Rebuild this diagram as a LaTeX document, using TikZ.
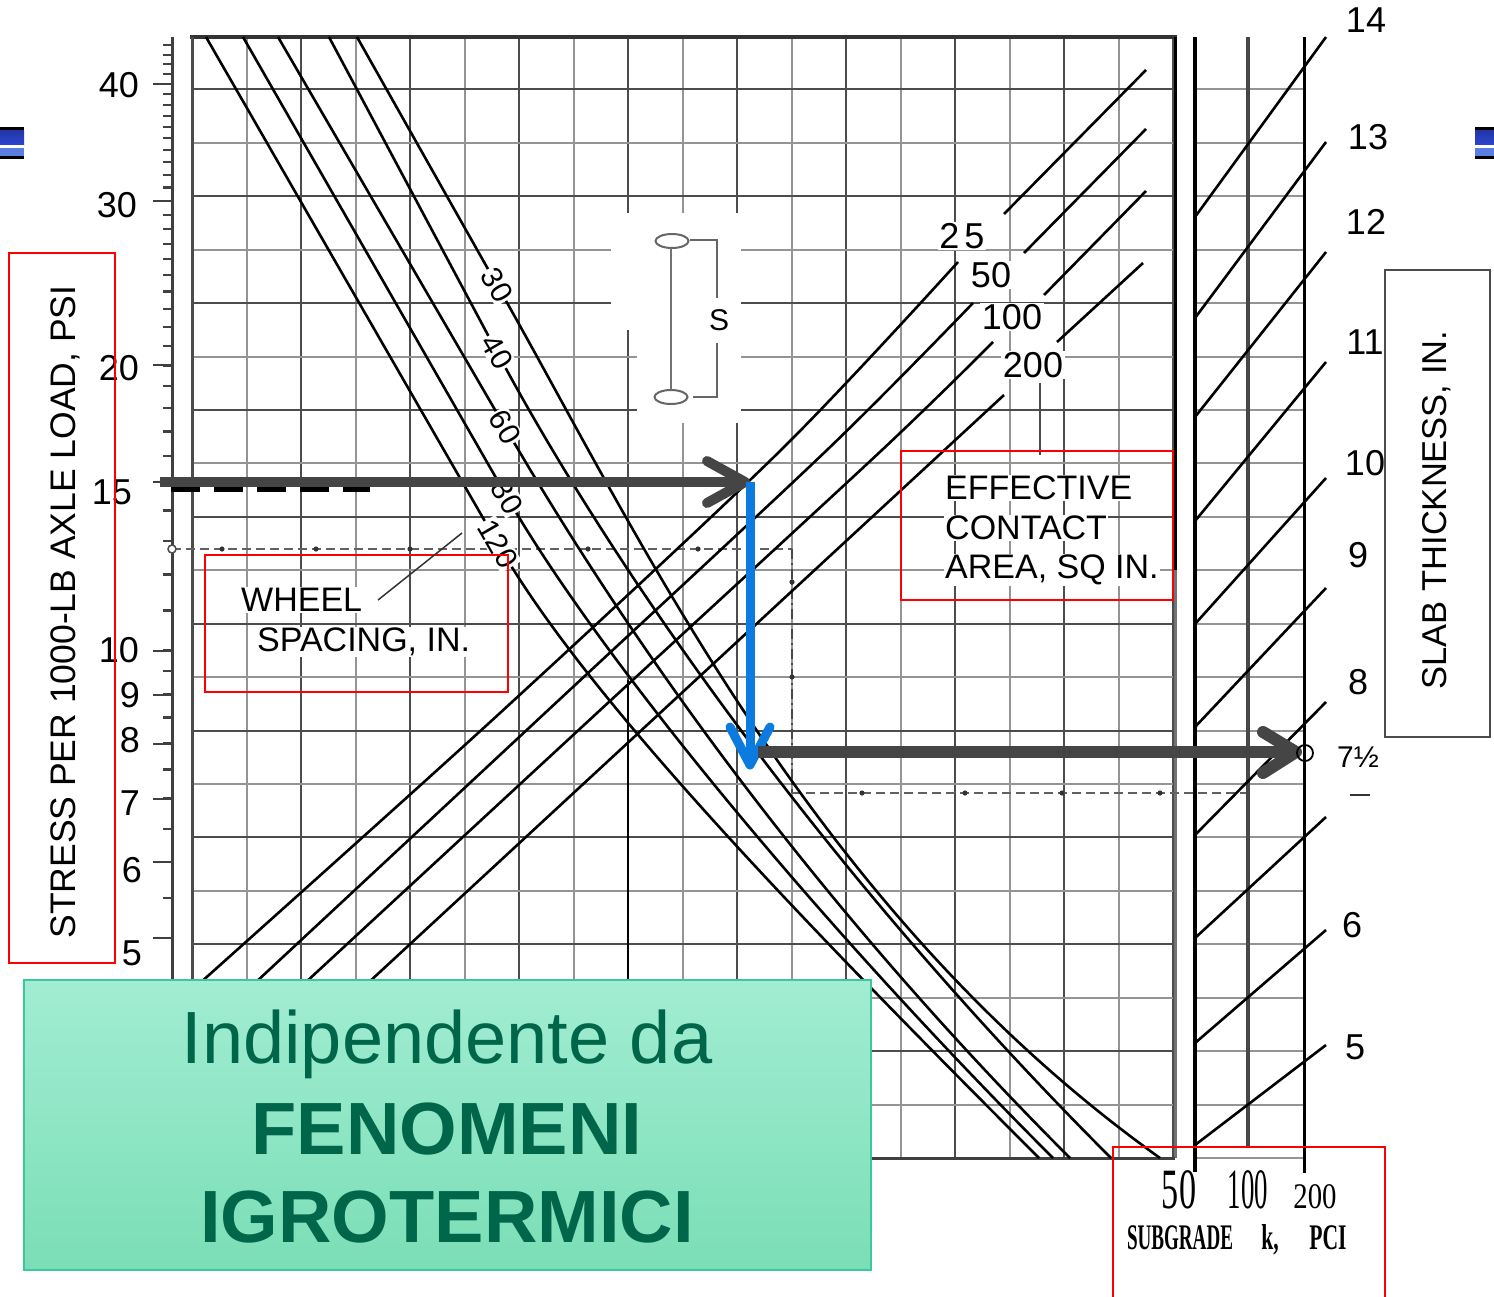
\documentclass[tikz,border=0pt]{standalone}
\usepackage{fontspec}
\setmainfont{Liberation Sans}
\newfontfamily\serifcond{Liberation Serif}
\definecolor{arrowgray}{HTML}{454545}
\definecolor{arrowblue}{HTML}{0B7BE0}
\definecolor{greentop}{HTML}{A2EDD3}
\definecolor{greenbot}{HTML}{7ADEB6}
\definecolor{greenedge}{HTML}{3CC89C}
\definecolor{greentext}{HTML}{00664A}
\definecolor{decoblue}{HTML}{2B44D0}
\definecolor{decolight}{HTML}{5A7FE0}
\begin{document}
\begin{tikzpicture}[x=1pt,y=-1pt,
  gridlight/.style={line width=2pt, black!42},
  griddark/.style={line width=2pt, black!70},
  chartline/.style={line width=2.6pt, black},
  redbox/.style={draw=red, line width=2.2pt},
  numlbl/.style={font=\fontsize{36}{40}\selectfont, inner sep=1pt},
  wlbl/.style={font=\fontsize{30}{32}\selectfont, fill=white, inner sep=1.5pt, rotate=-60},
  clbl/.style={font=\fontsize{36}{40}\selectfont, fill=white, inner sep=1.5pt},
  boxtext/.style={font=\fontsize{34}{38}\selectfont, fill=white, inner sep=1pt, anchor=west},
  dashgray/.style={line width=2pt, black!62, dash pattern=on 9pt off 5pt},
  dashdot/.style={line width=2pt, black!72, dash pattern=on 10pt off 4pt on 2pt off 4pt},
  grayarrow/.style={line width=10pt, arrowgray},
  bluearrow/.style={line width=9pt, arrowblue},
  chev/.style={line cap=round, line join=round},
  bigtext/.style={font=\fontsize{74}{80}\selectfont, text=greentext, anchor=base},
  condlbl/.style={font=\serifcond\fontsize{36}{40}\selectfont, inner sep=0pt}
]
\useasboundingbox (0,0) rectangle (1494,1296);
\fill[white] (0,0) rectangle (1494,1296);

% ---------- decoration bars ----------
\fill[black] (0,127) rectangle (24,159);
\shade[top color=decoblue!80!black, bottom color=decoblue] (0,130) rectangle (24,145);
\fill[white] (0,145) rectangle (24,148);
\fill[decolight] (0,148) rectangle (24,156);
\fill[black] (1475,127) rectangle (1494,159);
\shade[top color=decoblue!80!black, bottom color=decoblue] (1475,130) rectangle (1494,145);
\fill[white] (1475,145) rectangle (1494,148);
\fill[decolight] (1475,148) rectangle (1494,156);

% ---------- grid ----------
\foreach \k in {0,2,...,18} {
  \pgfmathsetmacro\xx{192+54.5*\k}
  \draw[griddark] (\xx,37) -- (\xx,1158);
}
\foreach \k in {1,3,...,17} {
  \pgfmathsetmacro\xx{192+54.5*\k}
  \draw[gridlight] (\xx,37) -- (\xx,1158);
}
\foreach \k in {1,3,...,21} {
  \pgfmathsetmacro\yy{36+53.43*\k}
  \draw[griddark] (192,\yy) -- (1173,\yy);
  \draw[gridlight] (1195,\yy) -- (1304,\yy);
}
\foreach \k in {2,4,...,20} {
  \pgfmathsetmacro\yy{36+53.43*\k}
  \draw[gridlight] (192,\yy) -- (1173,\yy);
  \draw[gridlight] (1195,\yy) -- (1304,\yy);
}
\draw[black, line width=2.5pt] (628,680) -- (628,985);
% white clearing round the S sketch
\fill[white] (637,213) rectangle (741,423);
\fill[white] (611,213) rectangle (637,330);

% ---------- frame ----------
\draw[black!80, line width=4pt] (190,37) -- (1177,37);
\draw[black, line width=3pt] (1175,37) -- (1175,570);
\draw[black!55, line width=3pt] (1175,570) -- (1175,1158);
\draw[black!70, line width=3pt] (192,37) -- (192,1158);
\draw[black!75, line width=3pt] (192,1158) -- (1175,1158);

% ---------- left log axis ----------
\draw[black!75, line width=3pt] (172,37) -- (172,990);
\foreach \v in {5,5.5,...,10} {
  \pgfmathsetmacro\yy{482+955*(ln(15)-ln(\v))/ln(10)}
  \draw[black!75, line width=2.2pt] (163,\yy) -- (172,\yy);
}
\foreach \v in {11,12,13,14} {
  \pgfmathsetmacro\yy{482+955*(ln(15)-ln(\v))/ln(10)}
  \draw[black!75, line width=2.2pt] (163,\yy) -- (172,\yy);
}
\foreach \v in {15,16,...,44} {
  \pgfmathsetmacro\yy{84+935*(ln(40)-ln(\v))/ln(10)}
  \draw[black!75, line width=2.2pt] (163,\yy) -- (172,\yy);
}
\foreach \yy in {84,201,365,482,651,695,744,799,862,938} {
  \draw[black!75, line width=2.2pt] (153,\yy) -- (172,\yy);
}
\node[numlbl, anchor=east] (y40) at (140,85) {40};
\node[numlbl, anchor=east] (y30) at (138,205) {30};
\node[numlbl, anchor=east] (y20) at (140,368) {20};
\node[numlbl, anchor=east] (y15) at (133,492) {15};
\node[numlbl, anchor=east] (y10) at (140,650) {10};
\node[numlbl, anchor=east] (y9) at (141,695) {9};
\node[numlbl, anchor=east] (y8) at (141,740) {8};
\node[numlbl, anchor=east] (y7) at (141,803) {7};
\node[numlbl, anchor=east] (y6) at (143,870) {6};
\node[numlbl, anchor=east] (y5) at (143,953) {5};

% ---------- dashed guide lines ----------
\coordinate (dA) at (172,549);
\coordinate (dB) at (792,549);
\coordinate (dC) at (792,793);
\coordinate (dD) at (1250,793);
\draw[dashgray] (dA) -- (dB);
\draw[dashdot] (dB) -- (dC);
\draw[dashgray] (dC) -- (dD);
\foreach \p in {(222,549),(316,549),(410,549),(588,549),(698,549),(792,582),(792,677),(862,793),(965,793),(1062,793),(1160,793)}
  \fill[black!80] \p circle (2.6);
\draw[black!70, line width=1.5pt, fill=white] (dA) circle (4);
\draw[black, line width=6pt, dash pattern=on 29pt off 14pt] (171,489) -- (370,489);

% ---------- wheel spacing curves ----------
\coordinate (L30) at (497,285);
\coordinate (L40) at (497,352);
\coordinate (L60) at (505,427);
\coordinate (L80) at (507,497);
\coordinate (L120) at (498,544);
\draw[chartline] (357,37) -- (L30) .. controls (639.5,535) and (810,908) .. (1160,1158);
\draw[chartline] (329,37) -- (L40) .. controls (603.6,552) and (811,858) .. (1111,1158);
\draw[chartline] (278,37) -- (L60) .. controls (592,577) and (770,858) .. (1070,1158);
\draw[chartline] (243,37) -- (L80) .. controls (593,647) and (803,908) .. (1053,1158);
\draw[chartline] (206,37) -- (L120) .. controls (584,694) and (789,908) .. (1039,1158);
\node[wlbl] (w30) at (L30) {30};
\node[wlbl] (w40) at (L40) {40};
\node[wlbl] (w60) at (L60) {60};
\node[wlbl] (w80) at (L80) {80};
\node[wlbl] (w120) at (L120) {120};

% ---------- contact area lines ----------
\draw[chartline] plot[smooth] coordinates {(200,983) (500,713) (781,450) (958,262)};
\draw[chartline] (1004,214) -- (1146,70);
\draw[chartline] plot[smooth] coordinates {(255,983) (545,713) (827,450) (973,303)};
\draw[chartline] (1024,253) -- (1146,129);
\draw[chartline] plot[smooth] coordinates {(305,983) (597,713) (882,450) (993,342)};
\draw[chartline] (1044,295) -- (1146,191);
\draw[chartline] (368,983) -- (1004,395);
\draw[chartline] (1057,342) -- (1143,263);
\node[clbl] (c25) at (962,236) {2\hspace{5pt}5};
\node[clbl] (c50) at (991,275) {50};
\node[clbl] (c100) at (1012,317) {100};
\node[clbl] (c200) at (1033,365) {200};

% ---------- S sketch ----------
\draw[black!60, line width=2pt] (672,241) ellipse (16.5 and 7);
\draw[black!60, line width=2pt] (671,397) ellipse (16.5 and 7);
\draw[black!55, line width=2.2pt] (671,248) -- (671,390);
\draw[black!60, line width=2pt] (690,240) -- (717,240) -- (717,298);
\draw[black!60, line width=2pt] (717,343) -- (717,397) -- (693,397);
\node[font=\fontsize{30}{32}\selectfont, inner sep=0pt] (sS) at (719,320) {S};

% ---------- right panel (slab thickness) ----------
\draw[black, line width=4pt] (1195,37) -- (1195,1172);
\draw[black!72, line width=3.5pt] (1248,37) -- (1248,1147);
\draw[black, line width=3pt] (1304,37) -- (1304,1173);
\foreach \a/\b in {217/37, 318/142, 417/252, 521/362, 624/478, 727/588, 835/702, 938/817, 1043/930, 1145/1045}
  \draw[chartline] (1195,\a) -- (1326,\b);
\node[numlbl] (t14) at (1366,20) {14};
\node[numlbl] (t13) at (1368,137) {13};
\node[numlbl] (t12) at (1366,222) {12};
\node[numlbl] (t11) at (1365,342) {11};
\node[numlbl] (t10) at (1365,463) {10};
\node[numlbl] (t9) at (1358,555) {9};
\node[numlbl] (t8) at (1358,682) {8};
\node[numlbl, font=\fontsize{30}{32}\selectfont] (t75) at (1358,757) {7½};
\node[numlbl] (t6) at (1352,925) {6};
\node[numlbl] (t5) at (1355,1047) {5};
\coordinate (dashL) at (1350,795);
\coordinate (dashR) at (1370,795);
\draw[black!80, line width=2.5pt] (dashL) -- (dashR);

% subgrade labels
\node[condlbl, font=\serifcond\fontsize{57}{60}\selectfont, xscale=0.6] (k50) at (1179,1190) {50};
\node[condlbl, font=\serifcond\fontsize{57}{60}\selectfont, xscale=0.47] (k100) at (1248,1190) {100};
\node[condlbl, font=\serifcond\fontsize{36}{40}\selectfont, xscale=0.8] (k200) at (1315,1197) {200};
\node[condlbl, font=\serifcond\bfseries\fontsize{36}{40}\selectfont, xscale=0.53] (ksub) at (1180,1238) {SUBGRADE};
\node[condlbl, font=\serifcond\bfseries\fontsize{36}{40}\selectfont, xscale=0.6] (kk) at (1270,1240) {k,};
\node[condlbl, font=\serifcond\bfseries\fontsize{36}{40}\selectfont, xscale=0.6] (kpci) at (1328,1238) {PCI};

% ---------- arrows ----------
\coordinate (a1s) at (160,482);
\coordinate (a1e) at (745,482);
\coordinate (b1s) at (750,482);
\coordinate (b1e) at (750,765);
\coordinate (a2s) at (758,752);
\coordinate (a2e) at (1296,752);
\draw[grayarrow] (a1s) -- (740,482);
\draw[grayarrow, chev] (707,461) -- (a1e) -- (707,503);
\draw[bluearrow] (b1s) -- (750,758);
\draw[bluearrow, chev] (730,727) -- (b1e) -- (770,727);
\draw[grayarrow, line width=12pt] (a2s) -- (1288,752);
\draw[grayarrow, line width=12pt, chev] (1263,732) -- (a2e) -- (1263,773);
\draw[black, line width=1.8pt] (1305,753) circle (8);

% ---------- label boxes ----------
\draw[redbox] (9,253) rectangle (115,963);
\node[font=\fontsize{35.5}{38}\selectfont, rotate=90, inner sep=0pt] (ylab) at (65,612) {STRESS PER 1000-LB AXLE LOAD, PSI};

\draw[redbox] (205,555) rectangle (508,692);
\node[boxtext] (wh1) at (240,600) {WHEEL};
\node[boxtext] (wh2) at (256,642) {SPACING, IN.};
\draw[black!80, line width=1.5pt] (378,600) -- (462,533);

\draw[black!70, line width=2.2pt] (1040,383) -- (1040,455);
\draw[redbox] (901,451) rectangle (1173,600);
\node[boxtext] (ec1) at (944,488) {EFFECTIVE};
\node[boxtext] (ec2) at (944,528) {CONTACT};
\node[boxtext] (ec3) at (944,570) {AREA, SQ IN.};

\draw[black!70, line width=2.5pt, fill=white] (1385,270) rectangle (1490,737);
\node[font=\fontsize{34.5}{38}\selectfont, rotate=90, inner sep=0pt] (slab) at (1437,510) {SLAB THICKNESS, IN.};

\draw[redbox] (1113,1147) rectangle (1385,1300);

% ---------- green note ----------
\shade[top color=greentop, bottom color=greenbot] (24,980) rectangle (871,1270);
\draw[greenedge, line width=2pt] (24,980) rectangle (871,1270);
\node[bigtext] (g1) at (447,1063) {Indipendente da};
\node[bigtext, font=\bfseries\fontsize{74}{80}\selectfont] (g2) at (447,1154) {FENOMENI};
\node[bigtext, font=\bfseries\fontsize{74}{80}\selectfont] (g3) at (447,1242) {IGROTERMICI};
\end{tikzpicture}
\end{document}
